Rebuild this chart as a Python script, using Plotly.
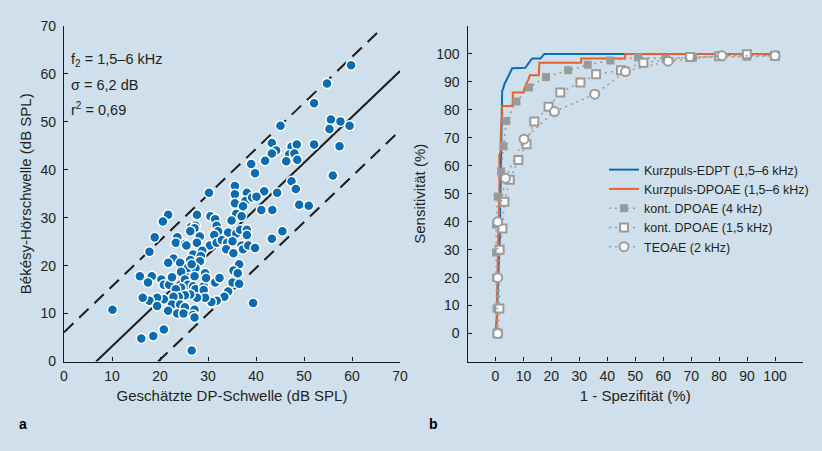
import plotly.graph_objects as go

W, H = 822, 451
BG = "#cfe0ec"
TXT = "#231f20"
BLUE = "#0b6cb4"
ORANGE = "#e8602c"
GRAY = "#9a9a9a"
FONT = "Liberation Sans, Arial, sans-serif"

# ---------------- Panel a data ----------------
dp_x = [59.8, 54.8, 52.1, 55.6, 55.3, 57.6, 59.5, 45.1, 57.4, 52.1, 43.3, 44.2, 43.3, 47.4, 48.5,
        46.9, 48.0, 48.6, 46.3, 41.9, 39.0, 39.8, 56.0, 47.4, 48.3, 30.2, 35.6, 35.6, 38.1, 41.7,
        44.4, 49.0, 51.0, 35.6, 37.8, 39.2, 40.1, 37.3, 41.1, 43.4,
        21.7, 20.6, 27.7, 30.5, 31.5, 35.9, 37.0, 34.9, 31.8, 32.1, 31.3, 26.5, 27.4, 27.2, 26.3,
        18.9, 23.6, 28.3, 34.2, 35.9, 36.7, 38.1, 38.1, 45.5, 43.3, 23.3, 25.2, 25.5, 27.7, 30.4,
        31.8, 32.9, 34.0, 35.1, 33.8, 35.3, 37.0, 37.3, 38.4, 39.8, 17.8, 28.8, 26.9, 28.5, 26.3,
        28.3, 22.8, 21.7, 24.2, 25.8, 27.4, 26.6, 24.4, 29.4, 36.5, 35.3, 36.2, 15.8, 18.3, 17.5,
        20.3, 20.8, 21.9, 22.5, 25.2, 27.2, 25.8, 24.4, 23.3, 26.9, 27.4, 29.1, 29.1, 29.6, 31.5,
        32.4, 35.1, 36.5, 34.2, 33.4, 31.8, 30.7, 29.4, 27.7, 26.3, 25.2, 23.9, 22.8, 20.8, 19.4,
        17.8, 16.4, 19.4, 22.5, 24.2, 25.2, 21.7, 23.6, 24.9, 27.2, 26.9, 27.2, 39.4, 10.1, 20.8,
        18.6, 16.1, 26.6]
bekesy_y = [61.8, 58.0, 53.9, 50.5, 48.5, 50.1, 49.2, 49.2, 44.9, 45.3, 45.6, 44.0, 43.4, 44.8, 45.3,
            43.2, 43.4, 42.1, 41.8, 41.9, 41.2, 39.3, 38.8, 37.6, 36.0, 35.2, 36.6, 34.9, 35.2, 35.5,
            35.2, 32.7, 32.5, 33.0, 33.5, 34.2, 34.4, 32.4, 31.6, 31.6,
            30.6, 29.2, 30.6, 30.3, 29.7, 30.8, 30.3, 29.4, 28.3, 27.2, 26.4, 28.1, 28.3, 27.8, 27.2,
            25.9, 25.9, 26.1, 26.9, 26.7, 27.5, 27.5, 26.4, 27.2, 25.6, 24.8, 24.5, 24.2, 24.8, 24.2,
            24.8, 25.3, 24.8, 25.1, 23.4, 22.6, 24.2, 23.4, 24.2, 23.7, 22.9, 23.1, 22.3, 22.0, 21.2,
            20.9, 21.5, 20.6, 20.6, 19.5, 19.5, 20.3, 18.7, 18.4, 20.3, 19.0, 18.4, 17.8, 17.8, 16.5,
            17.1, 16.0, 16.0, 17.6, 17.1, 17.8, 16.0, 15.4, 15.1, 15.7, 15.1, 15.7, 14.9, 17.4, 16.5,
            17.4, 16.5, 16.2, 14.6, 13.5, 12.7, 12.4, 13.3, 13.3, 14.0, 13.8, 13.5, 13.5, 13.0, 13.3,
            12.7, 13.3, 11.6, 11.9, 11.9, 11.3, 10.6, 10.0, 10.0, 10.8, 9.7, 9.2, 12.2, 10.8, 6.7,
            5.3, 4.8, 2.3]

fit_x = [6.7, 70.0]
fit_y = [0.0, 60.6]
upper_x = [0.0, 65.5]
upper_y = [6.1, 68.8]
lower_x = [19.6, 70.0]
lower_y = [0.0, 48.2]

# ---------------- Panel b data ----------------
edpt_x = [0.0, 0.5, 0.8, 1.2, 1.5, 1.8, 2.0, 2.2, 2.4, 2.7, 3.2, 3.9, 4.4, 5.4, 6.0, 10.7, 12.3, 13.1,
          16.1, 17.5, 100.0]
edpt_y = [0.0, 5.0, 15.0, 25.0, 33.0, 50.0, 64.0, 80.0, 86.8, 87.4, 89.2, 90.6, 91.5, 93.3, 94.9, 95.1,
          97.3, 98.4, 98.4, 100.0, 100.0]

kdp_x = [0.0, 0.4, 0.8, 1.2, 1.4, 1.4, 1.8, 2.0, 2.4, 2.4, 6.0, 6.2, 6.2, 9.9, 10.5, 11.0, 11.7, 12.3,
         15.5, 15.7, 30.6, 30.7, 46.4, 46.4, 100.0]
kdp_y = [0.0, 5.0, 25.0, 40.0, 50.0, 64.0, 65.0, 74.0, 78.0, 81.4, 81.4, 83.0, 86.2, 86.2, 88.0, 89.5,
         90.6, 92.4, 92.4, 96.9, 96.9, 98.4, 98.4, 100.0, 100.0]

d4_x = [0.4, 0.4, 0.2, 0.2, 0.2, 0.8, 2.0, 2.9, 3.9, 7.5, 12.0, 18.1, 26.0, 33.0, 41.1, 51.0, 60.8,
        70.6, 80.0, 89.9, 100.0]
d4_y = [0.0, 9.0, 20.0, 29.0, 39.0, 49.0, 58.0, 67.0, 76.0, 83.0, 88.0, 91.8, 94.2, 96.1, 97.7, 98.7,
        98.4, 98.7, 99.0, 99.0, 99.4]

d15_x = [0.8, 1.4, 1.5, 2.5, 3.2, 5.1, 8.2, 11.1, 13.9, 19.0, 23.2, 30.4, 36.0, 44.9, 52.9, 69.6,
         80.0, 89.9, 100.0]
d15_y = [0.0, 9.0, 30.0, 37.6, 47.1, 55.0, 62.1, 67.7, 75.8, 81.1, 86.2, 89.8, 92.7, 94.2, 96.9, 98.9,
         99.2, 99.9, 99.4]

te_x = [0.8, 0.8, 0.8, 3.6, 10.2, 21.1, 35.5, 46.5, 61.8, 81.0, 100.0]
te_y = [0.0, 20.0, 40.0, 55.5, 69.5, 79.4, 85.6, 93.7, 97.4, 99.4, 99.4]

a_ticks = [0, 10, 20, 30, 40, 50, 60, 70]
b_ticks = [0, 10, 20, 30, 40, 50, 60, 70, 80, 90, 100]
b_minor = [110]

fig = go.Figure()

# panel a
dash = "13px,8px"
fig.add_trace(go.Scatter(x=upper_x, y=upper_y, mode="lines", line=dict(color="#1a1a1a", width=2, dash=dash),
                         xaxis="x", yaxis="y", showlegend=False, hoverinfo="skip"))
fig.add_trace(go.Scatter(x=lower_x, y=lower_y, mode="lines", line=dict(color="#1a1a1a", width=2, dash=dash),
                         xaxis="x", yaxis="y", showlegend=False, hoverinfo="skip"))
fig.add_trace(go.Scatter(x=fit_x, y=fit_y, mode="lines", line=dict(color="#1a1a1a", width=2),
                         xaxis="x", yaxis="y", showlegend=False, hoverinfo="skip"))
fig.add_trace(go.Scatter(x=dp_x, y=bekesy_y, mode="markers",
                         marker=dict(color=BLUE, size=10, line=dict(color="white", width=1.5)),
                         xaxis="x", yaxis="y", showlegend=False))

# panel b
dot = "2px,4px"
fig.add_trace(go.Scatter(x=edpt_x, y=edpt_y, mode="lines", name="Kurzpuls-EDPT (1,5–6 kHz)",
                         line=dict(color=BLUE, width=2), xaxis="x2", yaxis="y2"))
fig.add_trace(go.Scatter(x=kdp_x, y=kdp_y, mode="lines", name="Kurzpuls-DPOAE (1,5–6 kHz)",
                         line=dict(color=ORANGE, width=2), xaxis="x2", yaxis="y2"))
fig.add_trace(go.Scatter(x=d4_x, y=d4_y, mode="lines+markers", name="kont. DPOAE (4 kHz)",
                         line=dict(color=GRAY, width=1.5, dash=dot),
                         marker=dict(symbol="square", color=GRAY, size=8, line=dict(width=0)),
                         xaxis="x2", yaxis="y2"))
fig.add_trace(go.Scatter(x=d15_x, y=d15_y, mode="lines+markers", name="kont. DPOAE (1,5 kHz)",
                         line=dict(color=GRAY, width=1.5, dash=dot),
                         marker=dict(symbol="square", color="white", size=8, line=dict(color=GRAY, width=2)),
                         xaxis="x2", yaxis="y2"))
fig.add_trace(go.Scatter(x=te_x, y=te_y, mode="lines+markers", name="TEOAE (2 kHz)",
                         line=dict(color=GRAY, width=1.5, dash=dot),
                         marker=dict(symbol="circle", color="white", size=9, line=dict(color=GRAY, width=2)),
                         xaxis="x2", yaxis="y2"))

axis_common = dict(showline=True, linecolor="#1a1a1a", linewidth=1.2, ticks="inside", ticklen=4,
                   tickcolor="#1a1a1a", tickwidth=1, showgrid=False, zeroline=False, automargin=False,
                   tickfont=dict(family=FONT, size=14, color=TXT), fixedrange=True,
                   title_font=dict(family=FONT, size=15, color=TXT))
minor_b = dict(tickvals=b_minor, ticks="inside", ticklen=4, tickcolor="#1a1a1a", tickwidth=1, showgrid=False)

ya_bot, ya_top = 1 - 361.5 / H, 1 - 26 / H

fig.update_layout(
    width=W, height=H,
    margin=dict(l=0, r=0, t=0, b=0, pad=0),
    paper_bgcolor=BG, plot_bgcolor=BG,
    font=dict(family=FONT, color=TXT),
    xaxis=dict(domain=[64 / W, 400 / W], range=[0, 70], tickvals=a_ticks, anchor="y",
               title=dict(text="Geschätzte DP-Schwelle (dB SPL)", standoff=7), ticklabelstandoff=2,
               **axis_common),
    yaxis=dict(domain=[ya_bot, ya_top], range=[0, 70], tickvals=a_ticks, anchor="x",
               title=dict(text="Békésy-Hörschwelle (dB SPL)", standoff=5), ticklabelstandoff=4,
               **axis_common),
    xaxis2=dict(domain=[467.5 / W, 803 / W], range=[-10, 110], tickvals=b_ticks, minor=minor_b,
                anchor="y2", title=dict(text="1 - Spezifität (%)", standoff=7), ticklabelstandoff=2,
                **axis_common),
    yaxis2=dict(domain=[ya_bot, ya_top], range=[-10, 110], tickvals=b_ticks, minor=minor_b,
                anchor="x2", title=dict(text="Sensitivität (%)", standoff=6), ticklabelstandoff=4,
                **axis_common),
    legend=dict(x=604 / W, y=1 - 155 / H, xanchor="left", yanchor="top", bgcolor="rgba(0,0,0,0)",
                font=dict(family=FONT, size=12.5, color=TXT), tracegroupgap=0, itemwidth=30),
    showlegend=True,
)

ann_font = dict(family=FONT, size=14.5, color=TXT)
fig.add_annotation(text="f<sub>2</sub> = 1,5–6 kHz", xref="paper", yref="paper", x=69 / W, y=1 - 60 / H,
                   xanchor="left", yanchor="middle", showarrow=False, font=ann_font)
fig.add_annotation(text="σ = 6,2 dB", xref="paper", yref="paper", x=69 / W, y=1 - 85 / H,
                   xanchor="left", yanchor="middle", showarrow=False, font=ann_font)
fig.add_annotation(text="r<sup>2</sup> = 0,69", xref="paper", yref="paper", x=69 / W, y=1 - 109 / H,
                   xanchor="left", yanchor="middle", showarrow=False, font=ann_font)
fig.add_annotation(text="<b>a</b>", xref="paper", yref="paper", x=17 / W, y=1 - 424 / H,
                   xanchor="left", yanchor="middle", showarrow=False, font=dict(family=FONT, size=14, color="#000"))
fig.add_annotation(text="<b>b</b>", xref="paper", yref="paper", x=427 / W, y=1 - 424 / H,
                   xanchor="left", yanchor="middle", showarrow=False, font=dict(family=FONT, size=14, color="#000"))

fig.write_html("out.html", config={"displayModeBar": False},
               post_script="document.body.style.margin='0';")
